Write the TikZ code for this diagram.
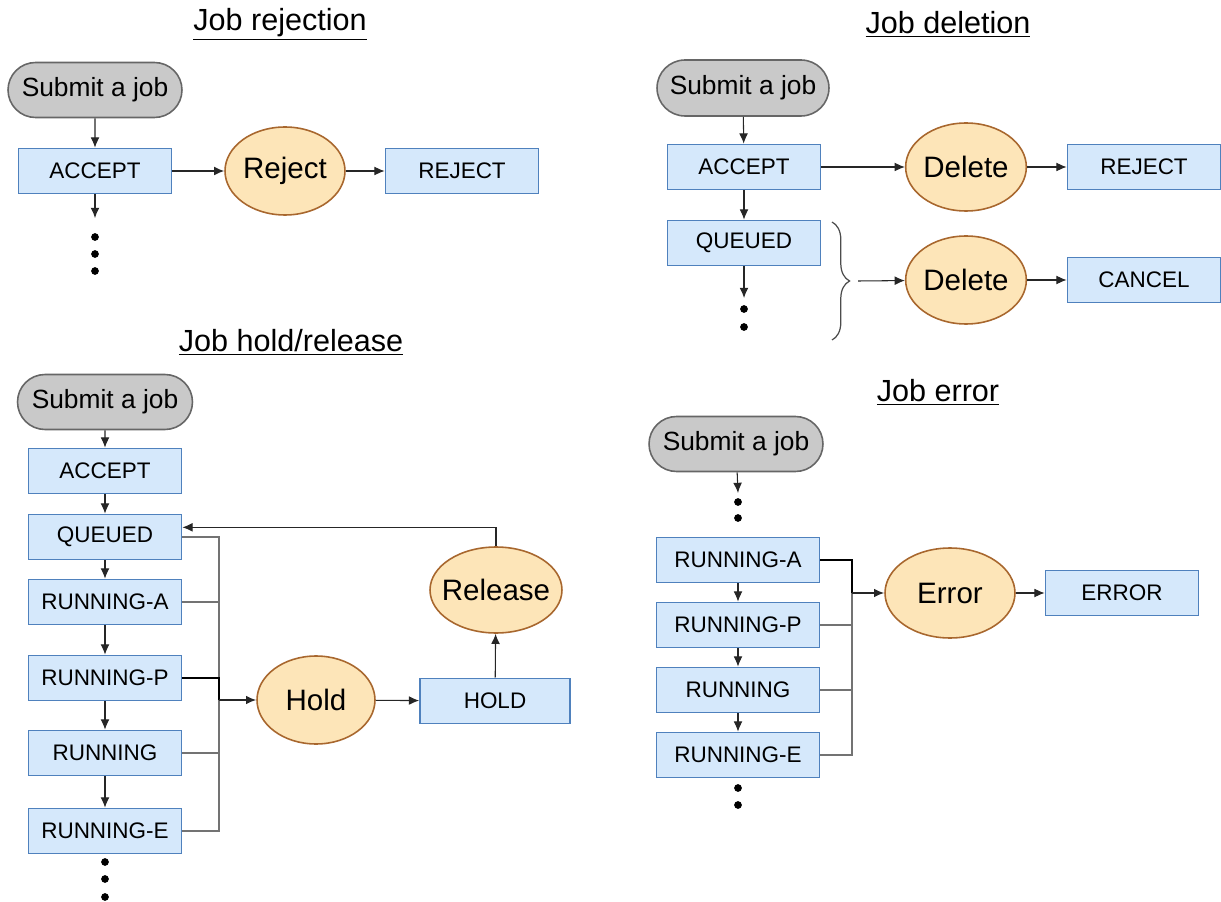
\documentclass[tikz,border=0pt]{standalone}
\usepackage{fontspec}
\setmainfont{Liberation Sans}
\usetikzlibrary{positioning,shapes.geometric,shapes.misc,arrows.meta,decorations.pathreplacing}

\definecolor{stfill}{HTML}{D5E8FB}
\definecolor{stline}{HTML}{4F81BD}
\definecolor{acfill}{HTML}{FDE5B8}
\definecolor{acline}{HTML}{A8672E}
\definecolor{sbfill}{HTML}{C9C9C9}
\definecolor{sbline}{HTML}{666666}

\tikzset{
  state/.style={draw=stline, fill=stfill, line width=1pt, minimum width=3.06cm,
    minimum height=0.9cm, inner sep=0pt, font=\fontsize{12.8}{15}\selectfont},
  submit/.style={rounded rectangle, draw=sbline, fill=sbfill, line width=0.9pt,
    minimum width=3.48cm, minimum height=1.1cm, inner sep=0pt,
    font=\fontsize{15}{18}\selectfont},
  action/.style={ellipse, draw=acline, fill=acfill, line width=0.9pt,
    minimum width=2.4cm, minimum height=1.76cm, inner sep=0pt,
    font=\fontsize{16.8}{20}\selectfont},
  title/.style={font=\fontsize{17.4}{21}\selectfont},
  arr/.style={-{Latex[length=5.8pt,width=5pt]}, line width=0.6pt, draw=black!85},
  feed/.style={line width=0.6pt, draw=black!55}
}

\begin{document}
\begin{tikzpicture}[x=0.02cm,y=-0.02cm]
	\useasboundingbox (0,0) rectangle (1221,902);

	% Job rejection
	\node[title] (t1) at (280,24) {\underline{Job rejection}};
	\node[submit] (sub1) at (95,90) {Submit a job};
	\node[state] (acc1) at (95,171) {ACCEPT};
	\node[action] (rej1) at (285,171) {Reject};
	\node[state] (rejst) at (462,171) {REJECT};
	\coordinate (more1) at (95,218);
	\draw[arr] (sub1) -- (acc1);
	\draw[arr] (acc1) -- (rej1);
	\draw[arr] (rej1) -- (rejst);
	\draw[arr] (acc1.south) -- (more1);
	\foreach \y in {237,254,271} \fill (95,\y) circle (2.2pt);

	% Job deletion
	\node[title] (t2) at (948,24) {\underline{Job deletion}};
	\node[submit, minimum width=3.44cm, minimum height=1.12cm] (sub2) at (743,88) {Submit a job};
	\node[state] (acc2) at (744,167) {ACCEPT};
	\node[state] (que2) at (744,243) {QUEUED};
	\node[action] (del1) at (966,167) {Delete};
	\node[state] (rej2) at (1144,167) {REJECT};
	\node[action] (del2) at (966,280) {Delete};
	\node[state] (can2) at (1144,280) {CANCEL};
	\coordinate (more2) at (744,298);
	\coordinate (brtip) at (858,281);
	\draw[arr] (sub2) -- (acc2);
	\draw[arr] (acc2) -- (que2);
	\draw[arr] (acc2) -- (del1);
	\draw[arr] (del1) -- (rej2);
	\draw[arr] (que2.south) -- (more2);
	\foreach \y in {309,327} \fill (744,\y) circle (2.2pt);
	\draw[black!70, line width=0.7pt, decorate, decoration={brace, amplitude=10pt}] (832,222) -- (832,340);
	\draw[arr] (brtip) -- (del2);
	\draw[arr] (del2) -- (can2);

	% Job hold/release
	\node[title] (t3) at (291,342) {\underline{Job hold/release}};
	\node[submit, minimum width=3.5cm] (sub3) at (105,402) {Submit a job};
	\node[state] (acc3) at (105,471) {ACCEPT};
	\node[state] (que3) at (105,537) {QUEUED};
	\node[state] (runa3) at (105,602) {RUNNING-A};
	\node[state] (runp3) at (105,678) {RUNNING-P};
	\node[state] (run3) at (105,753) {RUNNING};
	\node[state] (rune3) at (105,831) {RUNNING-E};
	\node[action, minimum width=2.36cm] (hold) at (316,700) {Hold};
	\node[state, minimum width=3cm] (holdst) at (495,701) {HOLD};
	\node[action, minimum width=2.64cm, minimum height=1.72cm, inner xsep=-6pt] (rel) at (496,590) {Release};
	\coordinate (hjoin) at (219,700);
	\draw[arr] (sub3) -- (acc3);
	\draw[arr] (acc3) -- (que3);
	\draw[arr] (que3) -- (runa3);
	\draw[arr] (runa3) -- (runp3);
	\draw[arr] (runp3) -- (run3);
	\draw[arr] (run3) -- (rune3);
	\foreach \n in {que3,runa3,run3,rune3} \draw[feed] (\n.east) -| (hjoin);
	\draw[line width=0.8pt] (runp3.east) -| (hjoin);
	\draw[arr, line width=0.9pt] (hjoin) -- (hold);
	\draw[arr] (hold) -- (holdst);
	\draw[arr] (holdst) -- (rel);
	\draw[arr] (rel.north) |- ([yshift=5.5pt]que3.east);
	\foreach \y in {862,879,897} \fill (105,\y) circle (2.2pt);

	% Job error
	\node[title] (t4) at (938,392) {\underline{Job error}};
	\node[submit, minimum width=3.48cm] (sub4) at (736,444) {Submit a job};
	\coordinate (more4) at (738,493);
	\node[state, minimum width=3.26cm] (runa4) at (738,560) {RUNNING-A};
	\node[state, minimum width=3.26cm] (runp4) at (738,625) {RUNNING-P};
	\node[state, minimum width=3.26cm] (run4) at (738,690) {RUNNING};
	\node[state, minimum width=3.26cm] (rune4) at (738,755) {RUNNING-E};
	\node[action, minimum width=2.6cm, minimum height=1.8cm] (err) at (950,593) {Error};
	\node[state] (errst) at (1122,593) {ERROR};
	\coordinate (ejoin) at (852,593);
	\draw[arr] (sub4) -- (more4);
	\foreach \y in {502,518} \fill (738,\y) circle (2.2pt);
	\draw[arr] (runa4) -- (runp4);
	\draw[arr] (runp4) -- (run4);
	\draw[arr] (run4) -- (rune4);
	\foreach \n in {runp4,run4,rune4} \draw[feed] (\n.east) -| (ejoin);
	\draw[line width=0.8pt] (runa4.east) -| (ejoin);
	\draw[arr, line width=0.9pt] (ejoin) -- (err);
	\draw[arr] (err) -- (errst);
	\foreach \y in {788,805} \fill (738,\y) circle (2.2pt);
\end{tikzpicture}
\end{document}
